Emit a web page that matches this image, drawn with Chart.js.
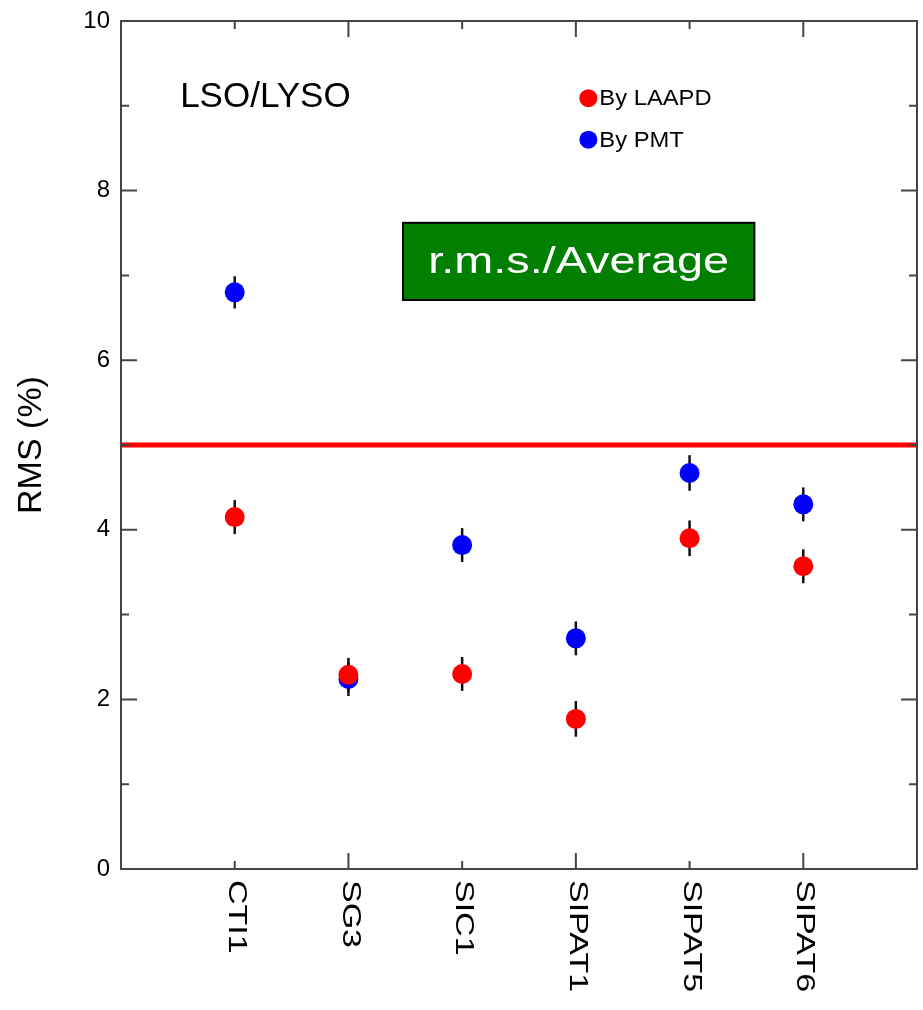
<!DOCTYPE html>
<html>
<head>
<meta charset="utf-8">
<script src="https://cdn.jsdelivr.net/npm/chart.js@4.4.1/dist/chart.umd.min.js"></script>
<style>
  body { margin: 0; background: #fff; }
  canvas { display: block; }
</style>
</head>
<body>
<canvas id="rms" width="923" height="1010"></canvas>
<script>
const crystals = ['CTI1', 'SG3', 'SIC1', 'SIPAT1', 'SIPAT5', 'SIPAT6'];
const laapd = [4.15, 2.29, 2.30, 1.77, 3.90, 3.57];
const laapdErr = [0.2, 0.2, 0.2, 0.21, 0.21, 0.2];
const pmt = [6.80, 2.24, 3.82, 2.72, 4.67, 4.30];
const pmtErr = [0.19, 0.2, 0.2, 0.2, 0.21, 0.2];
const limit = 5;
const yTicks = [0, 2, 4, 6, 8, 10];

const FONT = '"Liberation Sans", Arial, sans-serif';
const AXIS = '#444';

// error bars behind the dots
const errorBars = {
  id: 'errorBars',
  beforeDatasetsDraw(chart) {
    const { ctx, scales: { x, y } } = chart;
    ctx.save();
    ctx.strokeStyle = '#111';
    ctx.lineWidth = 2.5;
    [[laapd, laapdErr], [pmt, pmtErr]].forEach(([vals, errs]) => {
      vals.forEach((v, i) => {
        const px = x.getPixelForValue(i + 1);
        ctx.beginPath();
        ctx.moveTo(px, y.getPixelForValue(v - errs[i]));
        ctx.lineTo(px, y.getPixelForValue(v + errs[i]));
        ctx.stroke();
      });
    });
    ctx.restore();
  }
};

// frame, inward ticks, rotated category labels, text boxes
const decorations = {
  id: 'decorations',
  afterDraw(chart) {
    const { ctx, chartArea: a, scales: { x, y } } = chart;
    ctx.save();
    ctx.strokeStyle = AXIS;
    ctx.lineWidth = 2;
    ctx.strokeRect(a.left, a.top, a.right - a.left, a.bottom - a.top);

    ctx.beginPath();
    for (let v = 1; v < 10; v++) {
      const py = y.getPixelForValue(v);
      const len = v % 2 === 0 ? 16 : 8;
      ctx.moveTo(a.left, py); ctx.lineTo(a.left + len, py);
      ctx.moveTo(a.right, py); ctx.lineTo(a.right - len, py);
    }
    crystals.forEach((c, i) => {
      const px = x.getPixelForValue(i + 1);
      const len = (i + 1) % 2 === 0 ? 16 : 8;
      ctx.moveTo(px, a.bottom); ctx.lineTo(px, a.bottom - len);
      ctx.moveTo(px, a.top); ctx.lineTo(px, a.top + len);
    });
    ctx.stroke();

    // category labels, reading top to bottom
    ctx.fillStyle = '#000';
    ctx.font = '25px ' + FONT;
    ctx.textAlign = 'left';
    ctx.textBaseline = 'middle';
    crystals.forEach((c, i) => {
      ctx.save();
      ctx.translate(x.getPixelForValue(i + 1) + 1, a.bottom + 11);
      ctx.rotate(Math.PI / 2);
      ctx.scale(1.36, 1);
      ctx.fillText(c, 0, 0);
      ctx.restore();
    });

    // LSO/LYSO
    ctx.font = '35px ' + FONT;
    ctx.fillText('LSO/LYSO', x.getPixelForValue(0.52), y.getPixelForValue(9.1));

    // legend
    const lx = x.getPixelForValue(4.11);
    [['By LAAPD', '#ff0000', 9.09], ['By PMT', '#0000ff', 8.6]].forEach(([t, col, v]) => {
      const py = y.getPixelForValue(v);
      ctx.fillStyle = col;
      ctx.beginPath();
      ctx.arc(lx, py, 9, 0, Math.PI * 2);
      ctx.fill();
      ctx.fillStyle = '#000';
      ctx.save();
      ctx.translate(lx + 11, py + 1);
      ctx.scale(1.08, 1);
      ctx.font = '22px ' + FONT;
      ctx.fillText(t, 0, 0);
      ctx.restore();
    });

    // green box
    const bx0 = x.getPixelForValue(2.48), bx1 = x.getPixelForValue(5.57);
    const by0 = y.getPixelForValue(7.62), by1 = y.getPixelForValue(6.71);
    ctx.fillStyle = '#007f00';
    ctx.fillRect(bx0, by0, bx1 - bx0, by1 - by0);
    ctx.strokeStyle = '#000';
    ctx.lineWidth = 2;
    ctx.strokeRect(bx0, by0, bx1 - bx0, by1 - by0);
    ctx.fillStyle = '#fff';
    ctx.font = '36px ' + FONT;
    ctx.textAlign = 'center';
    ctx.save();
    ctx.translate((bx0 + bx1) / 2, (by0 + by1) / 2 + 2);
    ctx.scale(1.3, 1);
    ctx.fillText('r.m.s./Average', 0, 0);
    ctx.restore();
    ctx.restore();
  }
};

const ctx = document.getElementById('rms');

new Chart(ctx, {
  type: 'scatter',
  data: {
    datasets: [
      {
        label: 'By LAAPD',
        data: crystals.map((c, i) => ({ x: i + 1, y: laapd[i] })),
        backgroundColor: '#ff0000',
        borderWidth: 0,
        pointRadius: 10,
        pointHoverRadius: 10
      },
      {
        label: 'By PMT',
        data: crystals.map((c, i) => ({ x: i + 1, y: pmt[i] })),
        backgroundColor: '#0000ff',
        borderWidth: 0,
        pointRadius: 10,
        pointHoverRadius: 10
      },
      {
        type: 'line',
        label: 'limit',
        data: [{ x: 0, y: limit }, { x: crystals.length + 1, y: limit }],
        borderColor: '#ff0000',
        borderWidth: 5,
        pointRadius: 0
      }
    ]
  },
  options: {
    responsive: false,
    animation: false,
    layout: { autoPadding: false, padding: { top: 21, right: 6, left: 0, bottom: 0 } },
    plugins: { legend: { display: false }, tooltip: { enabled: false } },
    scales: {
      x: {
        type: 'linear',
        min: 0,
        max: crystals.length + 1,
        grid: { display: false, drawTicks: false },
        border: { display: false },
        ticks: { display: false },
        afterFit: s => { s.height = 141; s.paddingLeft = 0; s.paddingRight = 0; }
      },
      y: {
        min: 0,
        max: 10,
        afterBuildTicks: s => { s.ticks = yTicks.map(v => ({ value: v })); },
        grid: { display: false, drawTicks: false },
        border: { display: false },
        ticks: { color: '#000', padding: 11, font: { size: 24, family: FONT } },
        title: {
          display: true,
          text: 'RMS (%)',
          color: '#000',
          font: { size: 34, family: FONT },
          padding: { top: 11, bottom: 0 }
        },
        afterFit: s => { s.width = 121; s.paddingTop = 0; s.paddingBottom = 0; }
      }
    }
  },
  plugins: [errorBars, decorations]
});
</script>
</body>
</html>
